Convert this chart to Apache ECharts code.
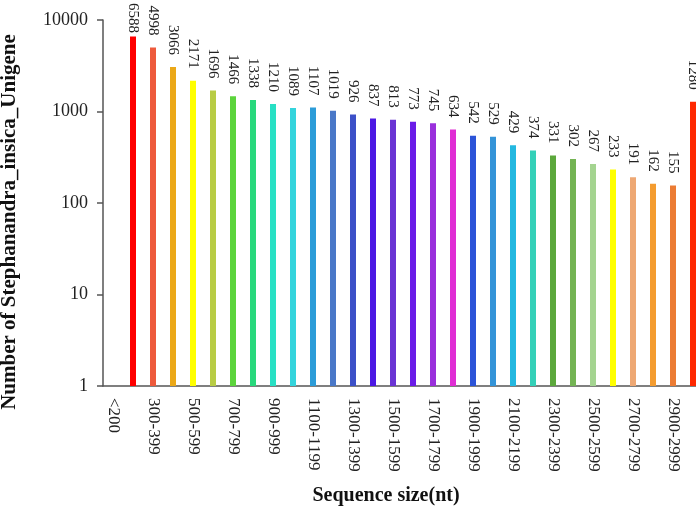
<!DOCTYPE html>
<html>
<head>
<meta charset="utf-8">
<script src="https://cdn.jsdelivr.net/npm/echarts@6/dist/echarts.min.js"></script>
<style>
  html, body { margin: 0; padding: 0; background: #fff; }
  #chart { width: 696px; height: 513px; }
</style>
</head>
<body>
<div id="chart"></div>
<script>
const categories = ['<200', '200-299', '300-399', '400-499', '500-599', '600-699', '700-799', '800-899',
  '900-999', '1000-1099', '1100-1199', '1200-1299', '1300-1399', '1400-1499', '1500-1599', '1600-1699',
  '1700-1799', '1800-1899', '1900-1999', '2000-2099', '2100-2199', '2200-2299', '2300-2399', '2400-2499',
  '2500-2599', '2600-2699', '2700-2799', '2800-2899', '2900-2999', '>=3000'];
const counts = [null, 6588, 4998, 3066, 2171, 1696, 1466, 1338, 1210, 1089, 1107, 1019, 926, 837, 813,
  773, 745, 634, 542, 529, 429, 374, 331, 302, 267, 233, 191, 162, 155, 1280];
const barColors = ['#ff0000', '#ff0000', '#ee5a3c', '#eba818', '#ffff00', '#b8cc44', '#5cd43c', '#28d87c',
  '#28e0c4', '#34d4dc', '#2c9cd8', '#4a78c8', '#3c50c8', '#4c18e4', '#6a34d4', '#6a1ce8', '#9a30dc',
  '#e02ed4', '#2c54d8', '#3494d8', '#24b8e0', '#34d0b8', '#5ca83c', '#74b454', '#a4d490', '#ffff00',
  '#eea874', '#f49c30', '#ec7c34', '#ff2800'];
const yTicks = [1, 10, 100, 1000, 10000];

const chart = echarts.init(document.getElementById('chart'), null, { renderer: 'canvas' });
const serif = '"Liberation Serif", "DejaVu Serif", serif';
chart.setOption({
  animation: false,
  backgroundColor: '#ffffff',
  grid: { left: 103, top: 20, width: 600, height: 366, containLabel: false, outerBoundsMode: 'none' },
  xAxis: {
    type: 'category',
    data: categories,
    axisLine: { lineStyle: { color: '#555', width: 1.5 } },
    axisTick: { show: false },
    axisLabel: {
      interval: 1, rotate: -90, margin: 12,
      fontFamily: serif, fontSize: 17, color: '#222'
    },
    name: 'Sequence size(nt)',
    nameLocation: 'middle',
    nameGap: 100,
    nameTextStyle: { fontFamily: serif, fontSize: 20, fontWeight: 'bold', color: '#111', padding: [0, 34, 0, 0] }
  },
  yAxis: {
    type: 'log',
    logBase: 10,
    min: yTicks[0],
    max: yTicks[yTicks.length - 1],
    axisLine: { show: true, lineStyle: { color: '#555', width: 1.5 } },
    axisTick: { show: true, inside: false, length: 6, lineStyle: { color: '#555', width: 1.5 } },
    splitLine: { show: false },
    minorTick: { show: false },
    axisLabel: { margin: 15, fontFamily: serif, fontSize: 18, color: '#222', formatter: v => String(Math.round(v)) },
    name: 'Number of Stephanandra_insica_Unigene',
    nameLocation: 'middle',
    nameGap: 83,
    nameRotate: 90,
    nameTextStyle: { fontFamily: serif, fontSize: 21, fontWeight: 'bold', color: '#111', padding: [0, 38, 0, 0] }
  },
  series: [{
    type: 'bar',
    data: counts.map((v, i) => ({ value: v, itemStyle: { color: barColors[i] } })),
    barWidth: 6,
    label: {
      show: true,
      position: 'top',
      distance: 12,
      rotate: -90,
      align: 'right',
      verticalAlign: 'middle',
      fontFamily: serif,
      fontSize: 15,
      color: '#222'
    },
    labelLayout: function (p) {
      if (p.labelRect && p.labelRect.y < 3) {
        return { y: p.labelRect.height + 3 };
      }
      return {};
    }
  }]
});
</script>
</body>
</html>
